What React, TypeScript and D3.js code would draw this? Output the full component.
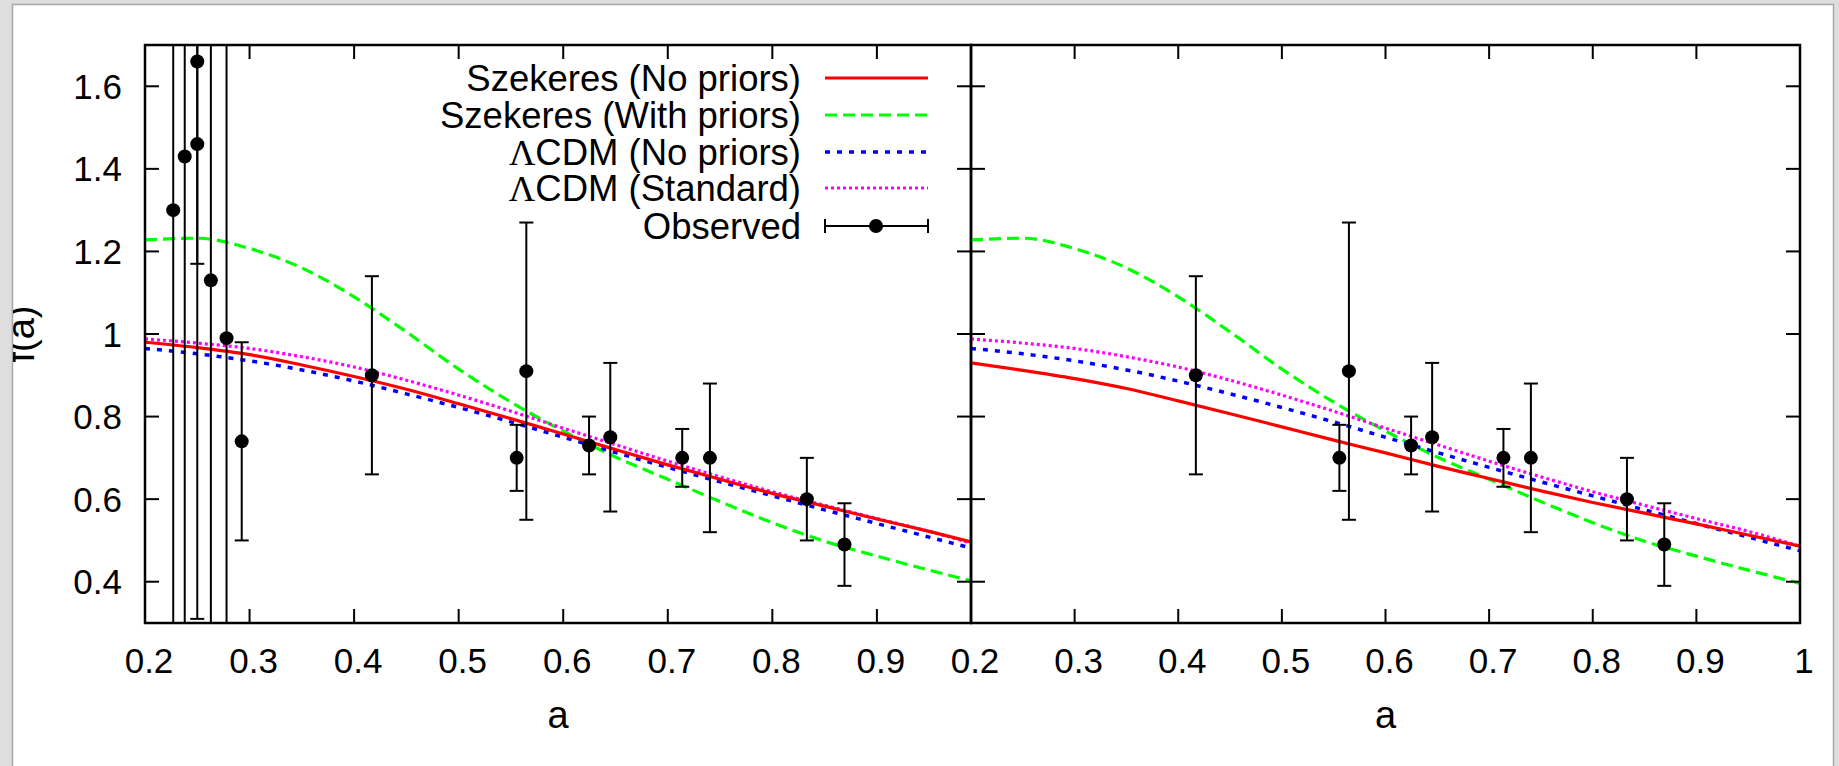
import React from "react";
import * as d3 from "d3";

// model curves on a common grid of a
const aGrid = [0.2, 0.25, 0.3, 0.35, 0.4, 0.45, 0.5, 0.55, 0.6, 0.65, 0.7, 0.75, 0.8, 0.85, 0.9, 0.95, 1.0];
const szekNoPriorsLeft = [0.98, 0.967, 0.95, 0.925, 0.897, 0.866, 0.831, 0.795, 0.758, 0.72, 0.683, 0.648, 0.614, 0.583, 0.552, 0.522, 0.49];
const szekNoPriorsRight = [0.93, 0.912, 0.892, 0.868, 0.838, 0.807, 0.775, 0.743, 0.712, 0.68, 0.65, 0.62, 0.592, 0.566, 0.54, 0.513, 0.486];
const szekWithPriors = [1.228, 1.232, 1.207, 1.16, 1.09, 1.005, 0.915, 0.835, 0.765, 0.702, 0.648, 0.594, 0.543, 0.498, 0.462, 0.428, 0.396];
const lcdmNoPriors = [0.965, 0.952, 0.935, 0.913, 0.886, 0.855, 0.822, 0.787, 0.75, 0.713, 0.677, 0.642, 0.608, 0.574, 0.541, 0.508, 0.475];
const lcdmStandard = [0.988, 0.978, 0.965, 0.945, 0.92, 0.888, 0.852, 0.813, 0.772, 0.732, 0.692, 0.654, 0.618, 0.585, 0.553, 0.522, 0.486];

// observed growth rate
const obsA = [0.227, 0.238, 0.25, 0.25, 0.263, 0.278, 0.2925, 0.417, 0.5555, 0.5647, 0.6247, 0.645, 0.7138, 0.7403, 0.833, 0.869];
const obsF = [1.3, 1.43, 1.66, 1.46, 1.13, 0.99, 0.74, 0.9, 0.7, 0.91, 0.73, 0.75, 0.7, 0.7, 0.6, 0.49];
const obsErr = [1.3, 1.3, 1.35, 0.29, 1.2, 1.0, 0.24, 0.24, 0.08, 0.36, 0.07, 0.18, 0.07, 0.18, 0.1, 0.1];
const rightPanelMinA = 0.4; // right panel only shows the low-z points

const yTicks = [0.4, 0.6, 0.8, 1, 1.2, 1.4, 1.6];
const xTicksLeft = [0.2, 0.3, 0.4, 0.5, 0.6, 0.7, 0.8, 0.9];
const xTicksRight = [0.2, 0.3, 0.4, 0.5, 0.6, 0.7, 0.8, 0.9, 1];

const legendItems = [
  { pre: "", label: "Szekeres (No priors)", color: "#ff0000", dash: "none", width: 3.2 },
  { pre: "", label: "Szekeres (With priors)", color: "#00ff00", dash: "12,6", width: 3.2 },
  { pre: "Λ", label: "CDM (No priors)", color: "#0000ff", dash: "5,7", width: 3.5 },
  { pre: "Λ", label: "CDM (Standard)", color: "#ff00ff", dash: "3,3", width: 3.2 },
];

const W = 1839;
const H = 766;
const top = 45;
const bottom = 623;
const font = "'Liberation Sans', Arial, Helvetica, sans-serif";

const y = d3.scaleLinear().domain([0.3, 1.7]).range([bottom, top]);
const xL = d3.scaleLinear().domain([0.2, 0.99]).range([145, 971]);
const xR = d3.scaleLinear().domain([0.2, 1.0]).range([971, 1800]);

const Panel = ({ x, id, red, right }) => {
  const [x0, x1] = x.range();
  const line = (vals) =>
    d3.line<number>().x((_, i) => x(aGrid[i])).y((v) => y(v)).curve(d3.curveMonotoneX)(vals);
  const idx = obsA.map((_, i) => i).filter((i) => !right || obsA[i] > rightPanelMinA);
  const ticksX = right ? xTicksRight : xTicksLeft;
  return (
    <g>
      <defs>
        <clipPath id={id}>
          <rect x={x0} y={top} width={x1 - x0} height={bottom - top} />
        </clipPath>
      </defs>
      <g clipPath={`url(#${id})`} fill="none">
        <path d={line(szekWithPriors)} stroke="#00ff00" strokeWidth={3.2} strokeDasharray="12,6" />
        <path d={line(lcdmStandard)} stroke="#ff00ff" strokeWidth={3.2} strokeDasharray="3,3" />
        <path d={line(lcdmNoPriors)} stroke="#0000ff" strokeWidth={3.5} strokeDasharray="5,7" />
        <path d={line(red)} stroke="#ff0000" strokeWidth={3.2} />
        {idx.map((i) => {
          const cx = x(obsA[i]);
          const lo = y(obsF[i] - obsErr[i]);
          const hi = y(obsF[i] + obsErr[i]);
          return (
            <g key={i} stroke="#000" strokeWidth={2}>
              <line x1={cx} x2={cx} y1={lo} y2={hi} />
              <line x1={cx - 7} x2={cx + 7} y1={lo} y2={lo} />
              <line x1={cx - 7} x2={cx + 7} y1={hi} y2={hi} />
              <circle cx={cx} cy={y(obsF[i])} r={7} fill="#000" stroke="none" />
            </g>
          );
        })}
      </g>
      <g stroke="#000" strokeWidth={2}>
        {yTicks.map((t) => (
          <g key={t}>
            <line x1={x0} x2={x0 + 14} y1={y(t)} y2={y(t)} />
            <line x1={x1} x2={x1 - 14} y1={y(t)} y2={y(t)} />
          </g>
        ))}
        {ticksX.slice(1, right ? -1 : undefined).map((t) => (
          <g key={t}>
            <line x1={x(t)} x2={x(t)} y1={bottom} y2={bottom - 14} />
            <line x1={x(t)} x2={x(t)} y1={top} y2={top + 14} />
          </g>
        ))}
      </g>
      <rect x={x0} y={top} width={x1 - x0} height={bottom - top} fill="none" stroke="#000" strokeWidth={2.5} />
      <g fontFamily={font} fontSize={35} textAnchor="middle">
        {ticksX.map((t) => (
          <text key={t} x={x(t) + 4} y={673}>
            {t}
          </text>
        ))}
        <text x={(x0 + x1) / 2} y={728} fontSize={38}>
          a
        </text>
      </g>
    </g>
  );
};

export default function App() {
  const legendRowY = [78, 115, 152, 188, 226];
  return (
    <svg width={W} height={H} style={{ position: "absolute", left: 0, top: 0, display: "block" }}>
      <defs>
        <clipPath id="page">
          <rect x={13} y={5} width={1820} height={H} />
        </clipPath>
      </defs>
      <rect width={W} height={H} fill="#dedede" />
      <rect x={12.5} y={4.5} width={1821} height={H + 10} fill="#fff" stroke="#a8a8a8" strokeWidth={1.5} />
      <g clipPath="url(#page)">
        <Panel x={xL} id="clipL" red={szekNoPriorsLeft} right={false} />
        <Panel x={xR} id="clipR" red={szekNoPriorsRight} right={true} />
        <g fontFamily={font} fontSize={35} textAnchor="end">
          {yTicks.map((t) => (
            <text key={t} x={122} y={y(t) + 12.5}>
              {t}
            </text>
          ))}
        </g>
        <text
          transform={`translate(34, ${(top + bottom) / 2}) rotate(-90)`}
          textAnchor="middle"
          fontFamily={font}
          fontSize={38}
        >
          f(a)
        </text>
        <g fontFamily={font} fontSize={36.5} textAnchor="end">
          {legendItems.map((d, i) => (
            <g key={d.label}>
              <text x={801} y={legendRowY[i] + 12.5}>
                {d.pre && <tspan fontFamily="'Liberation Serif', 'Times New Roman', serif">{d.pre}</tspan>}
                {d.label}
              </text>
              <line
                x1={825}
                x2={928}
                y1={legendRowY[i]}
                y2={legendRowY[i]}
                stroke={d.color}
                strokeWidth={d.width}
                strokeDasharray={d.dash}
              />
            </g>
          ))}
          <text x={801} y={legendRowY[4] + 12.5}>
            Observed
          </text>
          <g stroke="#000" strokeWidth={2}>
            <line x1={825} x2={928} y1={legendRowY[4]} y2={legendRowY[4]} />
            <line x1={825} x2={825} y1={legendRowY[4] - 7} y2={legendRowY[4] + 7} />
            <line x1={928} x2={928} y1={legendRowY[4] - 7} y2={legendRowY[4] + 7} />
            <circle cx={876} cy={legendRowY[4]} r={7} fill="#000" stroke="none" />
          </g>
        </g>
      </g>
    </svg>
  );
}
